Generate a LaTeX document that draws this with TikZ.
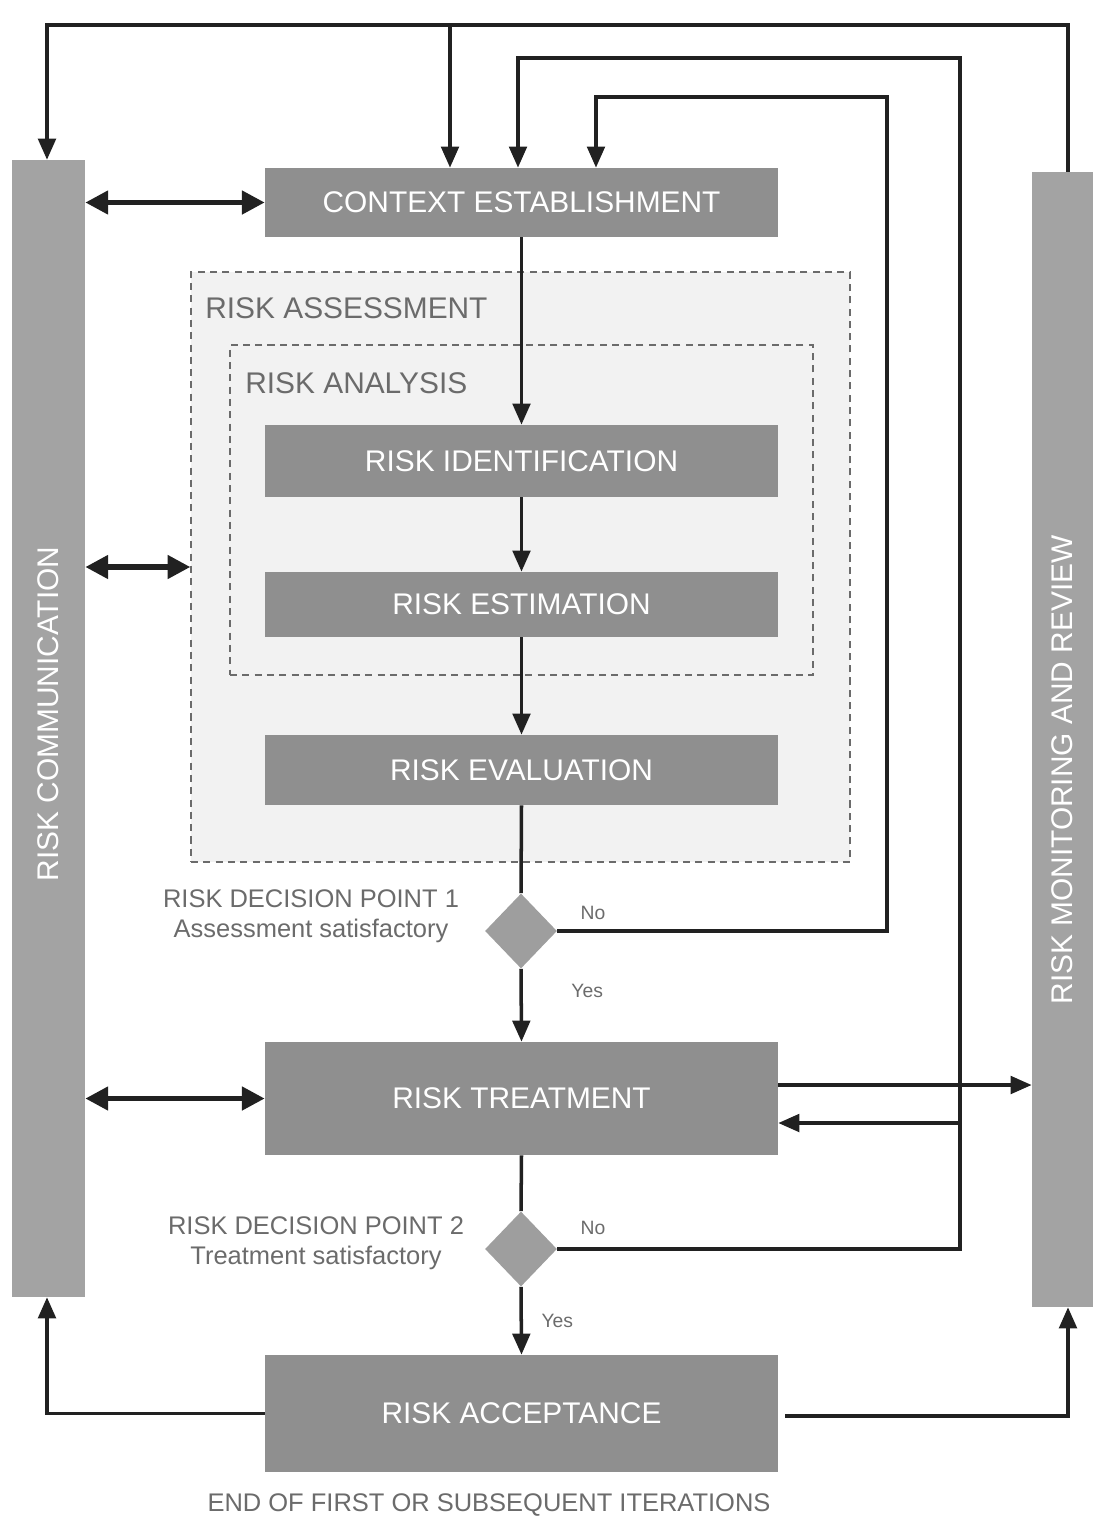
\documentclass[tikz,border=0pt]{standalone}
\usepackage{fontspec}
\setmainfont{Liberation Sans}
\usetikzlibrary{shapes.geometric,arrows.meta,positioning}

\definecolor{boxgray}{gray}{0.56}
\definecolor{sidegray}{gray}{0.64}
\definecolor{diagray}{gray}{0.62}
\definecolor{lblgray}{gray}{0.42}
\definecolor{linegray}{gray}{0.13}
\definecolor{areagray}{gray}{0.95}

\tikzset{
	procbox/.style={rectangle, fill=boxgray, text=white, minimum width=10.26cm, inner sep=0pt, font=\fontsize{17}{20}\selectfont},
	sidebox/.style={rectangle, fill=sidegray, inner sep=0pt},
	sidetext/.style={rotate=90, text=white, inner sep=0pt, font=\fontsize{17}{20}\selectfont},
	decide/.style={diamond, fill=diagray, aspect=1, inner sep=0pt, minimum width=1.44cm, minimum height=1.5cm},
	zone/.style={rectangle, draw=lblgray, line width=0.8pt, dash pattern=on 4pt off 3pt},
	zonetext/.style={anchor=west, inner sep=0pt, text=lblgray, font=\fontsize{17}{20}\selectfont},
	flow/.style={draw=linegray, line width=2pt, -{Triangle[length=12pt,width=10pt]}},
	link/.style={draw=linegray, line width=2pt},
	dflow/.style={draw=linegray, line width=3pt, {Triangle[length=13pt,width=13pt]}-{Triangle[length=13pt,width=13pt]}},
	dptext/.style={text=lblgray, align=center, font=\fontsize{14.5}{17}\selectfont},
	yesno/.style={text=lblgray, inner sep=2pt, font=\fontsize{11}{13}\selectfont}
}

\begin{document}
\begin{tikzpicture}[x=0.02cm, y=-0.02cm]
\useasboundingbox (0,0) rectangle (1093,1522);

\pgfmathsetmacro{\rlTopY}{25}
\pgfmathsetmacro{\rlTopX}{450}
\pgfmathsetmacro{\rlBx}{960}
\pgfmathsetmacro{\rlBy}{58}
\pgfmathsetmacro{\rlAx}{887}
\pgfmathsetmacro{\rlAy}{97}

\node[zone, fill=areagray, minimum width=13.18cm, minimum height=11.8cm] (assess) at (520.5,567) {};
\node[zone, minimum width=11.66cm, minimum height=6.6cm] (analysis) at (521.5,510) {};
\node[zonetext] (assessLbl) at (205,308) {RISK ASSESSMENT};
\node[zonetext] (analysisLbl) at (245,383) {RISK ANALYSIS};

\node[sidebox, minimum width=1.46cm, minimum height=22.74cm] (comm) at (48.5,728.5) {};
\node[sidetext] (commLbl) at (48.5,714) {RISK COMMUNICATION};
\node[sidebox, minimum width=1.22cm, minimum height=22.7cm] (monitor) at (1062.5,739.5) {};
\node[sidetext] (monitorLbl) at (1062.5,770) {RISK MONITORING AND REVIEW};

\node[procbox, minimum height=1.38cm] (context) at (521.5,202.5) {CONTEXT ESTABLISHMENT};
\node[procbox, minimum height=1.44cm] (ident) at (521.5,461) {RISK IDENTIFICATION};
\node[procbox, minimum height=1.3cm] (estim) at (521.5,604.5) {RISK ESTIMATION};
\node[procbox, minimum height=1.4cm] (evalu) at (521.5,770) {RISK EVALUATION};
\node[procbox, minimum height=2.26cm] (treat) at (521.5,1098.5) {RISK TREATMENT};
\node[procbox, minimum height=2.34cm] (accept) at (521.5,1413.5) {RISK ACCEPTANCE};

\node[decide] (dpOne) at (521,931) {};
\node[decide] (dpTwo) at (521,1249) {};
\node[dptext] (dpOneLbl) at (311,916) {RISK DECISION POINT 1\\Assessment satisfactory};
\node[dptext] (dpTwoLbl) at (316,1243) {RISK DECISION POINT 2\\Treatment satisfactory};
\node[yesno] (noOne) at (593,913) {No};
\node[yesno] (noTwo) at (593,1228) {No};
\node[dptext] (endLbl) at (489,1505) {END OF FIRST OR SUBSEQUENT ITERATIONS};

\coordinate (topSplit) at (\rlTopX,\rlTopY);
\coordinate (loopB) at (\rlBx,\rlBy);
\coordinate (loopA) at (\rlAx,\rlAy);
\coordinate (backTap) at (\rlBx,1123);

\draw[flow] ([xshift=0.11cm]monitor.north) |- (topSplit) -| ([xshift=-0.03cm]comm.north);
\draw[flow] (topSplit) -- (topSplit |- context.north);
\draw[flow] (dpTwo.east) -| (loopB) -| ([xshift=-0.07cm]context.north);
\draw[flow] (dpOne.east) -| (loopA) -| ([xshift=1.49cm]context.north);

\draw[flow] (context.south) -- (ident.north);
\draw[flow] (ident.south) -- (estim.north);
\draw[flow] (estim.south) -- (evalu.north);
\draw[link] (evalu.south) -- (dpOne.north);
\draw[flow] (dpOne.south) -- node[yesno, right, pos=0.3, xshift=0.9cm] (yesOne) {Yes} (treat.north);
\draw[link] (treat.south) -- (dpTwo.north);
\draw[flow] (dpTwo.south) -- node[yesno, right, pos=0.5, xshift=0.3cm] (yesTwo) {Yes} (accept.north);

\draw[flow] ([yshift=0.27cm]treat.east) -- ([yshift=0.27cm]treat.east -| monitor.west);
\draw[flow] (backTap) -- (backTap -| treat.east);

\draw[flow] (accept.west) -| ([xshift=-0.03cm]comm.south);
\draw[flow] ([xshift=0.14cm,yshift=-0.05cm]accept.east) -| ([xshift=0.11cm]monitor.south);

\draw[dflow] (context.west -| comm.east) -- (context.west);
\draw[dflow] (assess.west -| comm.east) -- (assess.west);
\draw[dflow] (treat.west -| comm.east) -- (treat.west);
\end{tikzpicture}
\end{document}
